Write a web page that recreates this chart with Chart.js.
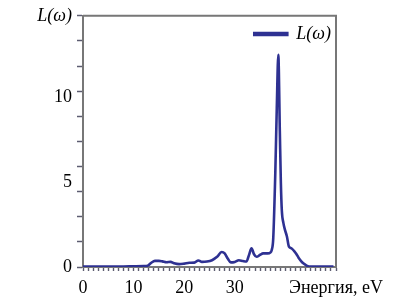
<!DOCTYPE html>
<html>
<head>
<meta charset="utf-8">
<script src="https://cdn.jsdelivr.net/npm/chart.js@4"></script>
<style>
  html, body { margin: 0; padding: 0; background: #fff; }
  #wrap { width: 411px; height: 304px; }
</style>
</head>
<body>
<div id="wrap"><canvas id="lossChart"></canvas></div>
<script>
// energy (eV) and loss function L(w)
const energy = [0, 2, 4, 6, 8, 10, 12, 12.8, 13.5, 14.2, 15, 15.7, 16.5, 17.3, 18, 19, 20, 21, 22, 22.8,
  23.5, 24.5, 25.5, 26.5, 27.4, 28, 28.6, 29.2, 30, 30.8, 31.6, 32.3, 32.8, 33.3, 33.8, 34.3, 35, 35.6,
  36.5, 37, 37.3, 37.6, 38.0, 38.3, 38.6, 38.9, 39.1, 39.3, 39.6, 39.9, 40.3, 40.7, 41.2, 41.7, 42.2,
  42.6, 43.1, 43.6, 44.2, 45, 46, 48, 49.5];
const lossValues = [0.02, 0.02, 0.02, 0.03, 0.03, 0.04, 0.05, 0.08, 0.25, 0.36, 0.36, 0.33, 0.28, 0.3, 0.22, 0.17, 0.2, 0.25, 0.26, 0.38,
  0.3, 0.32, 0.4, 0.6, 0.88, 0.8, 0.5, 0.27, 0.3, 0.4, 0.35, 0.32, 0.7, 1.1, 0.75, 0.6, 0.72, 0.8,
  0.8, 0.85, 1.0, 1.7, 5.5, 9.4, 12.5, 8.0, 5.0, 3.3, 2.6, 2.2, 1.8, 1.2, 1.1, 0.95, 0.75,
  0.55, 0.35, 0.2, 0.08, 0.02, 0.02, 0.02, 0.02];

const xMax = 50;
const yMax = 14.8;
const yLabelTicks = [0, 5, 10, yMax];
const xLabelTicks = [0, 10, 20, 30, xMax];
const yAxisName = 'L(ω)';
const xAxisName = 'Энергия, eV';

const lineColor = 'rgb(46, 49, 146)';
const axisColor = '#777';
const tickMarkColor = '#5c5c70';
const serif = "'Liberation Serif', 'DejaVu Serif', serif";

// draws the top and right edges of the frame
const frameBorder = {
  id: 'frameBorder',
  afterDraw(chart) {
    const { ctx, chartArea: a } = chart;
    ctx.save();
    ctx.strokeStyle = axisColor;
    ctx.lineWidth = 2;
    ctx.beginPath();
    ctx.moveTo(a.left, a.top);
    ctx.lineTo(a.right, a.top);
    ctx.lineTo(a.right, a.bottom);
    ctx.stroke();
    ctx.restore();
  }
};

// move the in-plot legend over to the top right corner
const legendRight = {
  id: 'legendRight',
  afterLayout(chart) {
    const lg = chart.legend;
    if (!lg) return;
    const col = lg.columnSizes && lg.columnSizes[0] ? lg.columnSizes[0].width : 77;
    lg.left = chart.chartArea.right - col - 5 - lg.options.labels.padding;
    lg.top = lg.top + 17;
  }
};

const near = (v, list) => list.some(t => Math.abs(t - v) < 1e-6);

const ctx = document.getElementById('lossChart').getContext('2d');
new Chart(ctx, {
  type: 'line',
  data: {
    datasets: [{
      label: yAxisName,
      data: energy.map((e, i) => ({ x: e, y: lossValues[i] })),
      borderColor: lineColor,
      backgroundColor: lineColor,
      borderWidth: 2.6,
      pointRadius: 0,
      fill: false,
      cubicInterpolationMode: 'monotone'
    }]
  },
  options: {
    responsive: true,
    maintainAspectRatio: false,
    animation: false,
    layout: { padding: { left: 0, right: 75, top: 15, bottom: 0 } },
    plugins: {
      tooltip: { enabled: false },
      legend: {
        position: 'chartArea',
        align: 'start',
        labels: {
          boxWidth: 33,
          boxHeight: 2,
          color: '#000',
          padding: 8,
          font: { family: serif, size: 18, style: 'italic' }
        }
      }
    },
    scales: {
      x: {
        type: 'linear',
        min: 0,
        max: xMax,
        afterBuildTicks: scale => {
          const t = [];
          for (let v = 0; v <= xMax; v++) t.push({ value: v });
          scale.ticks = t;
        },
        afterFit: scale => { scale.height = 37; },
        border: { display: true, color: axisColor, width: 2 },
        grid: {
          display: true,
          drawOnChartArea: false,
          drawTicks: true,
          tickLength: 4,
          tickColor: tickMarkColor,
          tickWidth: 1.4
        },
        ticks: {
          autoSkip: false,
          maxRotation: 0,
          padding: 6,
          color: '#000',
          font: { family: serif, size: 18 },
          callback: v => {
            if (!near(v, xLabelTicks)) return '';
            return v === xMax ? xAxisName : String(v);
          }
        }
      },
      y: {
        min: 0,
        max: yMax,
        afterBuildTicks: scale => {
          const t = [];
          for (let i = 0; i <= 10; i++) t.push({ value: +(i * yMax / 10).toFixed(3) });
          yLabelTicks.forEach(v => { if (!t.some(k => Math.abs(k.value - v) < 1e-6)) t.push({ value: v }); });
          t.sort((a, b) => a.value - b.value);
          scale.ticks = t;
        },
        afterFit: scale => { scale.width = 83; },
        border: { display: true, color: axisColor, width: 2 },
        grid: {
          display: true,
          drawOnChartArea: false,
          drawTicks: true,
          tickLength: 6,
          tickWidth: 1.5,
          tickColor: c => {
            const v = c.tick ? c.tick.value : 0;
            return (v === 5 || v === 10) ? 'rgba(0,0,0,0)' : tickMarkColor;
          }
        },
        ticks: {
          autoSkip: false,
          padding: 5,
          color: '#000',
          font: c => ({
            family: serif,
            size: 18,
            style: c.tick && c.tick.value === yMax ? 'italic' : 'normal'
          }),
          callback: v => {
            if (!near(v, yLabelTicks)) return '';
            return v === yMax ? yAxisName : String(v);
          }
        }
      }
    }
  },
  plugins: [frameBorder, legendRight]
});
</script>
</body>
</html>
